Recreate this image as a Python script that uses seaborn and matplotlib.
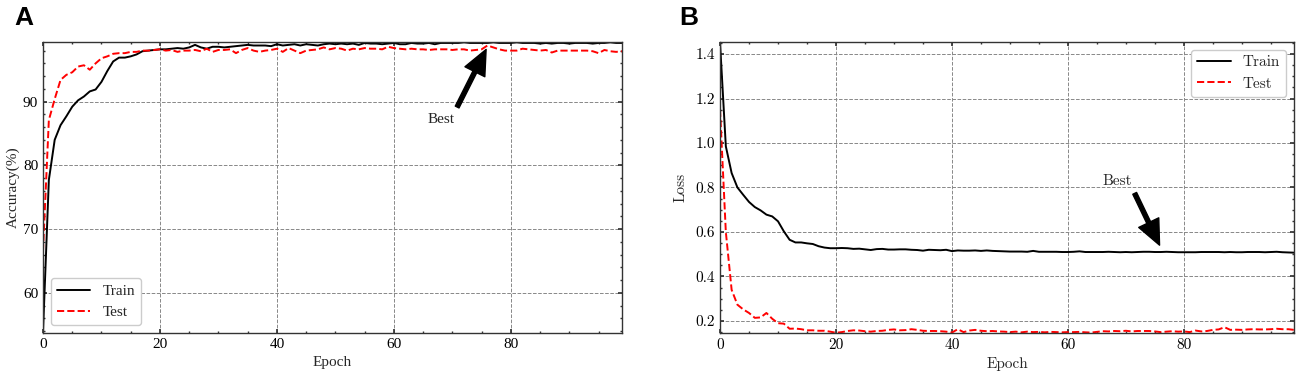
import numpy as np
import seaborn as sns
import matplotlib.pyplot as plt
from matplotlib.ticker import MultipleLocator

# accuracy per epoch (%)
train_acc = [53.8, 77.7, 84.0, 86.3, 87.7, 89.2, 90.2, 90.8, 91.6, 91.9,
             93.1, 94.8, 96.3, 96.9, 96.9, 97.1, 97.4, 97.9, 98.0, 98.1,
             98.2, 98.2, 98.3, 98.4, 98.3, 98.5, 98.9, 98.5, 98.3, 98.6,
             98.6, 98.5, 98.6, 98.7, 98.8, 98.9, 98.8, 98.8, 98.8, 98.7,
             99.0, 98.8, 98.9, 99.0, 98.8, 99.0, 98.9, 98.8, 99.0, 99.1,
             99.0, 99.1, 99.0, 99.1, 98.9, 99.2, 99.1, 99.1, 99.0, 99.1,
             99.2, 99.0, 99.0, 99.2, 99.1, 99.1, 99.2, 99.0, 99.2, 99.2,
             99.2, 99.2, 99.3, 99.2, 99.2, 99.2, 99.2, 99.3, 99.2, 99.2,
             99.2, 99.3, 99.2, 99.2, 99.2, 99.1, 99.2, 99.1, 99.2, 99.2,
             99.1, 99.2, 99.2, 99.2, 99.1, 99.2, 99.2, 99.3, 99.2, 99.2]
test_acc = [66.5, 87.1, 90.4, 93.4, 94.2, 94.6, 95.5, 95.7, 95.0, 96.0,
            96.8, 97.1, 97.5, 97.6, 97.6, 97.8, 97.8, 98.0, 98.0, 98.1,
            98.2, 98.0, 98.1, 97.8, 98.0, 98.0, 98.1, 97.9, 98.3, 97.8,
            98.1, 98.1, 98.2, 97.6, 98.1, 98.4, 98.0, 97.8, 98.0, 98.1,
            98.3, 97.8, 98.4, 98.0, 97.6, 98.0, 98.1, 98.2, 98.5, 98.2,
            98.4, 98.3, 98.0, 98.3, 98.2, 98.4, 98.3, 98.3, 98.2, 98.6,
            98.4, 98.3, 98.2, 98.3, 98.2, 98.2, 98.1, 98.2, 98.2, 98.2,
            98.1, 98.2, 98.2, 98.0, 98.1, 98.2, 98.8, 98.5, 98.2, 98.0,
            98.0, 98.0, 98.3, 98.2, 98.1, 98.0, 98.1, 97.7, 98.0, 98.0,
            98.0, 98.0, 98.0, 98.0, 97.9, 97.6, 98.1, 97.9, 97.8, 97.9]

# loss per epoch
train_loss = [1.45, 0.985, 0.865, 0.80, 0.767, 0.735, 0.712, 0.697, 0.678, 0.670,
              0.648, 0.603, 0.565, 0.553, 0.553, 0.549, 0.546, 0.536, 0.530, 0.527,
              0.527, 0.528, 0.527, 0.524, 0.525, 0.522, 0.519, 0.523, 0.524, 0.521,
              0.521, 0.522, 0.522, 0.520, 0.519, 0.516, 0.520, 0.519, 0.518, 0.520,
              0.514, 0.517, 0.516, 0.516, 0.517, 0.515, 0.517, 0.515, 0.514, 0.513,
              0.512, 0.512, 0.512, 0.511, 0.515, 0.511, 0.511, 0.511, 0.511, 0.510,
              0.510, 0.511, 0.513, 0.510, 0.510, 0.510, 0.510, 0.511, 0.510, 0.509,
              0.510, 0.509, 0.510, 0.511, 0.511, 0.510, 0.510, 0.511, 0.510, 0.509,
              0.509, 0.509, 0.509, 0.510, 0.510, 0.510, 0.510, 0.509, 0.510, 0.509,
              0.509, 0.510, 0.510, 0.510, 0.509, 0.510, 0.511, 0.509, 0.508, 0.507]
test_loss = [1.15, 0.60, 0.34, 0.273, 0.252, 0.236, 0.214, 0.216, 0.236, 0.210,
             0.190, 0.188, 0.165, 0.166, 0.163, 0.158, 0.158, 0.156, 0.156, 0.152,
             0.147, 0.150, 0.155, 0.158, 0.157, 0.154, 0.152, 0.155, 0.156, 0.160,
             0.162, 0.158, 0.159, 0.163, 0.160, 0.156, 0.155, 0.155, 0.154, 0.152,
             0.148, 0.163, 0.150, 0.157, 0.160, 0.156, 0.154, 0.155, 0.153, 0.152,
             0.150, 0.152, 0.149, 0.152, 0.150, 0.151, 0.149, 0.151, 0.150, 0.149,
             0.150, 0.150, 0.151, 0.149, 0.148, 0.151, 0.154, 0.153, 0.155, 0.154,
             0.156, 0.153, 0.155, 0.155, 0.155, 0.153, 0.150, 0.152, 0.154, 0.152,
             0.153, 0.150, 0.157, 0.153, 0.155, 0.160, 0.162, 0.172, 0.160, 0.161,
             0.160, 0.162, 0.163, 0.162, 0.162, 0.163, 0.165, 0.163, 0.163, 0.160]

epochs = np.arange(len(train_acc))

sns.set_theme(style="ticks")
plt.rcParams.update({
    "xtick.direction": "in", "ytick.direction": "in",
    "xtick.top": True, "ytick.right": True,
    "xtick.major.size": 3, "ytick.major.size": 3,
    "xtick.minor.size": 1.5, "ytick.minor.size": 1.5,
    "xtick.minor.visible": True, "ytick.minor.visible": True,
    "axes.edgecolor": "#333333", "axes.linewidth": 1.0,
})

fig = plt.figure(figsize=(12.99, 3.76), dpi=100)
ax1 = fig.add_axes([0.0331, 0.1144, 0.4457, 0.7739])
ax2 = fig.add_axes([0.5543, 0.1144, 0.4419, 0.7739])

arrow_style = dict(facecolor="black", edgecolor="black", shrink=0.04,
                   width=3, headwidth=16, headlength=18)


def style_axis(ax, family, ymajor, yminor):
    ax.grid(True, which="major", linestyle="--", color="#888888", linewidth=0.7)
    ax.xaxis.set_major_locator(MultipleLocator(20))
    ax.xaxis.set_minor_locator(MultipleLocator(5))
    ax.yaxis.set_major_locator(MultipleLocator(ymajor))
    ax.yaxis.set_minor_locator(MultipleLocator(yminor))
    ax.tick_params(which="both", colors="#333333", labelcolor="black",
                   labelsize=11, labelfontfamily=family)
    ax.set_xlim(0, 99)


# panel A: accuracy
sns.lineplot(x=epochs, y=train_acc, ax=ax1, color="black", linewidth=1.4, label="Train")
sns.lineplot(x=epochs, y=test_acc, ax=ax1, color="red", linewidth=1.4, linestyle="--", label="Test")
style_axis(ax1, "Liberation Serif", 10, 2)
ax1.set_ylim(53.7, 99.35)
ax1.set_xlabel("Epoch", fontsize=11, family="Liberation Serif")
ax1.set_ylabel("Accuracy(%)", fontsize=11, family="Liberation Serif", labelpad=2)
ax1.legend(loc="lower left", prop={"family": "Liberation Serif", "size": 11},
           handlelength=2.2, fancybox=True, edgecolor="#cccccc", framealpha=1)
ax1.annotate("Best", xy=(76, 98.6), xytext=(68, 87.2), ha="center", va="center",
             fontsize=11, family="Liberation Serif", arrowprops=arrow_style)

# panel B: loss
sns.lineplot(x=epochs, y=train_loss, ax=ax2, color="black", linewidth=1.4, label="Train")
sns.lineplot(x=epochs, y=test_loss, ax=ax2, color="red", linewidth=1.4, linestyle="--", label="Test")
style_axis(ax2, "cmr10", 0.2, 0.05)
ax2.set_ylim(0.146, 1.454)
ax2.set_xlabel("Epoch", fontsize=11, family="cmr10")
ax2.set_ylabel("Loss", fontsize=11, family="cmr10", labelpad=6)
ax2.legend(loc="upper right", prop={"family": "cmr10", "size": 11},
           handlelength=2.2, fancybox=True, edgecolor="#cccccc", framealpha=1)
ax2.annotate("Best", xy=(76, 0.53), xytext=(68.5, 0.83), ha="center", va="center",
             fontsize=11, family="cmr10", arrowprops=arrow_style)

fig.text(0.011, 0.985, "A", fontsize=19, fontweight="bold", family="Liberation Sans",
         color="black", va="top")
fig.text(0.523, 0.985, "B", fontsize=19, fontweight="bold", family="Liberation Sans",
         color="black", va="top")

fig.savefig("out.png", dpi=100)
